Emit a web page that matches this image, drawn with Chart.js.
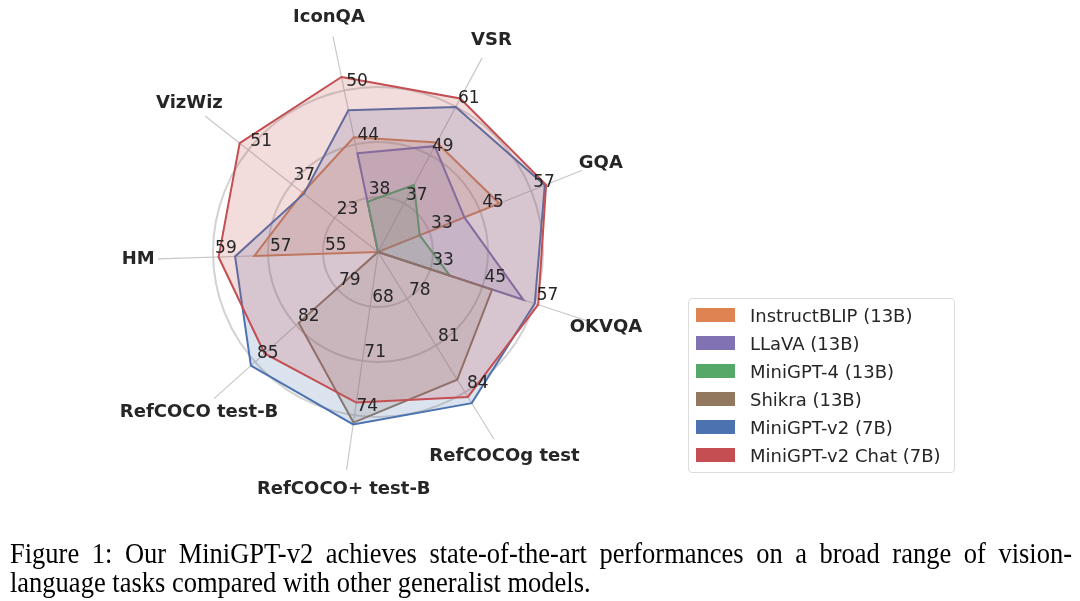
<!DOCTYPE html>
<html>
<head>
<meta charset="utf-8">
<script src="https://cdn.jsdelivr.net/npm/chart.js@4.4.0/dist/chart.umd.min.js"></script>
<style>
  body { margin: 0; background: #fff; width: 1080px; height: 601px; overflow: hidden; position: relative; }
  #wrap { position: absolute; left: 0; top: 0; width: 1080px; height: 601px; }
  #legend { position: absolute; left: 688px; top: 298px; width: 265px; height: 173px;
            border: 1px solid #dcdcdc; border-radius: 4px; background: #fff;
            font-family: "DejaVu Sans", sans-serif; font-size: 18px; color: #262626; }
  .row { position: absolute; left: 0; height: 28px; display: flex; align-items: center; white-space: nowrap; }
  .sw { width: 39px; height: 14px; margin-left: 7px; margin-right: 15px; }
  #caption { position: absolute; left: 10px; top: 539px; width: 1062px;
             font-family: "Liberation Serif", "Times New Roman", serif; font-size: 26.5px; line-height: 26.4px; color: #000;
             transform: scaleY(1.1); transform-origin: top left; }
  #caption .l1 { text-align: justify; text-align-last: justify; }
</style>
</head>
<body>
<div id="wrap"><canvas id="radar"></canvas></div>
<div id="legend"></div>
<div id="caption">
  <div class="l1">Figure 1: Our MiniGPT-v2 achieves state-of-the-art performances on a broad range of vision-</div>
  <div>language tasks compared with other generalist models.</div>
</div>
<script>
const tasks = ['IconQA', 'VSR', 'GQA', 'OKVQA', 'RefCOCOg test', 'RefCOCO+ test-B', 'RefCOCO test-B', 'HM', 'VizWiz'];
// per-axis labels on the three rings (inner, middle, outer)
const tickLabels = [
  [38, 44, 50], [37, 49, 61], [33, 45, 57], [33, 45, 57], [78, 81, 84],
  [68, 71, 74], [79, 82, 85], [55, 57, 59], [23, 37, 51]
];
const models = ['InstructBLIP (13B)', 'LLaVA (13B)', 'MiniGPT-4 (13B)', 'Shikra (13B)', 'MiniGPT-v2 (7B)', 'MiniGPT-v2 Chat (7B)'];
const colors = ['#DD8452', '#8172B3', '#55A868', '#937860', '#4C72B0', '#C44E52'];

// null = not reported (drawn at the centre)
const instructBlip  = [44.8, 52.1, 49.5, null, null, null, null, 57.5, 33.4];
const llava         = [43.0, 51.2, 41.3, 54.4, null, null, null, null, null];
const minigpt4      = [37.6, 41.6, 30.8, 37.5, null, null, null, null, null];
const shikra        = [null, null, null, 47.2, 83.2, 74.4, 81.8, null, null];
const minigptV2     = [47.8, 60.9, 60.2, 57.0, 84.7, 74.5, 85.3, 58.2, 33.0];
const minigptV2Chat = [51.5, 63.0, 60.5, 57.8, 84.3, 73.3, 84.3, 58.8, 53.8];

const series = [instructBlip, llava, minigpt4, shikra, minigptV2, minigptV2Chat];

// each axis has its own scale: ring k (1..3) = tickLabels[i][k-1]
function toRing(v, i) {
  if (v === null) return 0;
  const step = tickLabels[i][1] - tickLabels[i][0];
  return (v - tickLabels[i][0]) / step + 1;
}

function rgba(hex, a) {
  const n = parseInt(hex.slice(1), 16);
  return `rgba(${n >> 16},${(n >> 8) & 255},${n & 255},${a})`;
}

const axisText = {
  id: 'axisText',
  afterDatasetsDraw(chart) {
    const r = chart.scales.r;
    const ctx = chart.ctx;
    ctx.save();
    ctx.fillStyle = '#262626';
    ctx.font = '17px "DejaVu Sans"';
    ctx.textAlign = 'left';
    ctx.textBaseline = 'alphabetic';
    tickLabels.forEach((row, i) => {
      row.forEach((t, k) => {
        const p = r.getPointPosition(i, r.getDistanceFromCenterForValue(k + 1));
        ctx.fillText(String(t), p.x + 2, p.y - 4);
      });
    });
    ctx.font = 'bold 18px "DejaVu Sans"';
    ctx.textAlign = 'center';
    ctx.textBaseline = 'middle';
    tasks.forEach((t, i) => {
      const p = r.getPointPosition(i, r.drawingArea + 20);
      ctx.fillText(t, p.x, p.y);
    });
    ctx.restore();
  }
};

const ctx = document.getElementById('radar').getContext('2d');
const radar = new Chart(ctx, {
  type: 'radar',
  data: {
    labels: tasks,
    datasets: series.map((s, k) => ({
      label: models[k],
      data: s.map((v, i) => toRing(v, i)),
      borderColor: colors[k],
      backgroundColor: rgba(colors[k], 0.2),
      borderWidth: 2,
      pointRadius: 0,
      fill: true,
      order: series.length - k
    }))
  },
  options: {
    responsive: true,
    maintainAspectRatio: false,
    animation: false,
    layout: { padding: { left: 158, right: 482, top: 32, bottom: 129 } },
    plugins: {
      legend: { display: false },
      tooltip: { enabled: false }
    },
    scales: {
      r: {
        min: 0,
        max: 4,
        startAngle: -11.8,
        ticks: { display: false, stepSize: 1 },
        pointLabels: { display: false },
        grid: {
          circular: true,
          lineWidth: 2,
          color: c => (c.tick && c.tick.value >= 4) ? 'rgba(0,0,0,0)' : '#d2d2d2'
        },
        angleLines: { color: '#c8c8c8', lineWidth: 1.2 }
      }
    }
  },
  plugins: [axisText]
});

const legend = document.getElementById('legend');
models.forEach((m, k) => {
  const row = document.createElement('div');
  row.className = 'row';
  row.style.top = (2 + 28 * k) + 'px';
  row.innerHTML = `<span class="sw" style="background:${colors[k]}"></span><span>${m}</span>`;
  legend.appendChild(row);
});
</script>
</body>
</html>
